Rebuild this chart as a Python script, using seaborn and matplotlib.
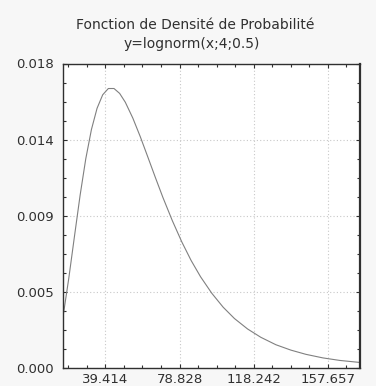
import matplotlib
matplotlib.use("Agg")
import matplotlib.pyplot as plt
import seaborn as sns
import pandas as pd
from matplotlib.ticker import AutoMinorLocator

# Values
x_vals = [17.06, 20, 23, 26, 29, 32, 35, 38, 41, 44, 47, 50, 54, 58, 62, 66, 70,
          75, 80, 85, 90, 96, 102, 108, 115, 122, 130, 138, 146, 155, 164, 174.7]
y_vals = [0.00312, 0.00531, 0.00778, 0.01021, 0.01236, 0.01409, 0.01535, 0.01615,
          0.01652, 0.01652, 0.01623, 0.01571, 0.01477, 0.01366, 0.01246, 0.01125,
          0.01007, 0.00870, 0.00745, 0.00634, 0.00538, 0.00440, 0.00358, 0.00291,
          0.00229, 0.00180, 0.00136, 0.00104, 0.00079, 0.00058, 0.00043, 0.00031]

x_ticks = [39.414, 78.828, 118.242, 157.657]
x_tick_labels = ["39.414", "78.828", "118.242", "157.657"]
y_ticks = [0.0, 0.0045, 0.009, 0.0135, 0.018]
y_tick_labels = ["0.000", "0.005", "0.009", "0.014", "0.018"]

title_lines = ["Fonction de Densité de Probabilité", "y=lognorm(x;4;0.5)"]

df = pd.DataFrame({"x": x_vals, "y": y_vals})

sns.set_style("white")
plt.rcParams["font.family"] = ["DejaVu Sans"]

fig = plt.figure(figsize=(3.76, 3.86), dpi=100, facecolor="#f7f7f7")
ax = fig.add_axes([63.3 / 376, (386 - 367.7) / 386, (360 - 63.3) / 376, (367.7 - 63.5) / 386])
ax.set_facecolor("white")

sns.lineplot(data=df, x="x", y="y", ax=ax, color="#808080", linewidth=0.8)

ax.set_xlim(17.06, 174.72)
ax.set_ylim(0, 0.018)
ax.set_xticks(x_ticks)
ax.set_xticklabels(x_tick_labels)
ax.set_yticks(y_ticks)
ax.set_yticklabels(y_tick_labels)
ax.xaxis.set_minor_locator(AutoMinorLocator(4))
ax.yaxis.set_minor_locator(AutoMinorLocator(4))
ax.set_xlabel("")
ax.set_ylabel("")

ax.grid(True, which="major", linestyle=(0, (1, 2)), color="#c8c8c8", linewidth=0.8)
ax.tick_params(which="both", direction="in", top=True, right=True, bottom=True, left=True,
               color="#303030", width=0.8)
ax.tick_params(which="major", length=3)
ax.tick_params(which="minor", length=2.5)
ax.tick_params(axis="y", which="major", pad=7, labelsize=9.5, labelcolor="#303030")
ax.tick_params(axis="x", which="major", pad=4, labelsize=9.5, labelcolor="#303030")

for name, sp in ax.spines.items():
    sp.set_color("#303030")
    sp.set_linewidth(1.0)
ax.spines["right"].set_linewidth(1.6)

fig.text(0.52, 1 - 25 / 386, title_lines[0], ha="center", va="center", fontsize=10, color="#303030")
fig.text(0.51, 1 - 44 / 386, title_lines[1], ha="center", va="center", fontsize=10, color="#303030")

fig.savefig("out.png", dpi=100, facecolor=fig.get_facecolor())
